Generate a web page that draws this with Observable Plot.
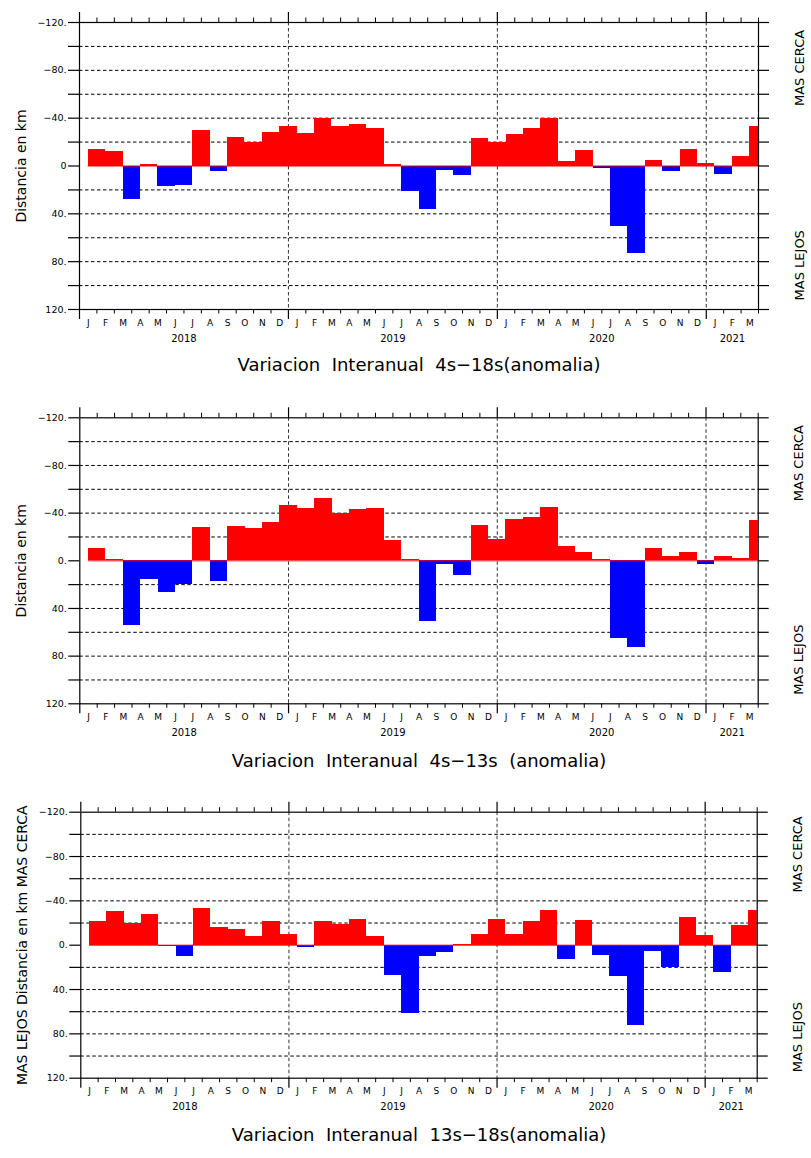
<!DOCTYPE html>
<html>
<head>
<meta charset="utf-8">
<script src="https://cdn.jsdelivr.net/npm/d3@7"></script>
<script src="https://cdn.jsdelivr.net/npm/@observablehq/plot@0.6"></script>
<style>
  html, body { margin: 0; padding: 0; background: #fff; }
  body { width: 811px; height: 1158px; position: relative; overflow: hidden; }
  .panel { position: absolute; left: 0; }
  .panel svg { display: block; }
</style>
</head>
<body>
<div id="p1" class="panel" style="top:0px"></div>
<div id="p2" class="panel" style="top:390px"></div>
<div id="p3" class="panel" style="top:775px"></div>
<script>
// Month initials and the years covered (Jan 2018 – Mar 2021)
const monthLabels = ["J", "F", "M", "A", "M", "J", "J", "A", "S", "O", "N", "D"];
const years = ["2018", "2019", "2020", "2021"];

// Interannual distance anomalies in km (negative = closer, positive = farther)
const anom4s18s = [
  -14, -12, 28, -1, 17, 16, -30, 5, -24, -20, -28, -33,
  -27, -40, -33, -35, -31, -1, 21, 36, 4, 8, -23, -20,
  -26, -31, -40, -4, -13, 2, 51, 73, -5, 5, -14, -2,
  7, -8, -33
];
const anom4s13s = [
  -10, -1, 54, 16, 27, 20, -28, 17, -29, -27, -32, -46,
  -44, -52, -40, -43, -44, -17, -1, 51, 3, 12, -30, -18,
  -35, -36, -45, -12, -7, -1, 65, 73, -10, -4, -7, 3,
  -4, -2, -34
];
const anom13s18s = [
  -21, -30, -20, -28, 1, 10, -33, -16, -14, -8, -21, -10,
  2, -21, -19, -23, -8, 27, 62, 10, 7, -0.5, -10, -23,
  -10, -21, -31, 13, -22, 9, 28, 72, 6, 20, -25, -9,
  25, -18, -31
];

// Y axis tick values and their printed labels
const yTickValues = [-120, -80, -40, 0, 40, 80, 120];
const yTickLabelsA = ["\u2212120.", "\u221280.", "\u221240.", "0", "40.", "80.", "120."];
const yTickLabelsB = ["\u2212120.", "\u221280.", "\u221240.", "0.", "40.", "80.", "120."];

const titles = [
  "Variacion  Interanual  4s\u221218s(anomalia)",
  "Variacion  Interanual  4s\u221213s  (anomalia)",
  "Variacion  Interanual  13s\u221218s(anomalia)"
];

const FONT = "DejaVu Sans, Liberation Sans, sans-serif";
const RED = "#ff0000";
const BLUE = "#0000ff";
const DASH = "3.5,2.5";

function panel(values, o) {
  const n = values.length;
  const rows = values.map((v, i) => ({i, v}));
  const months = d3.range(n).map((i) => ({i, label: monthLabels[i % 12]}));
  const bounds = d3.range(n + 1);
  const major = bounds.filter((k) => k % 12 === 0);
  const minor = bounds.filter((k) => k % 12 !== 0);
  const yearRows = years.map((label, j) => ({label, x: (j * 12 + Math.min(j * 12 + 12, n)) / 2}));
  const grid = d3.range(-100, 101, 20).filter((v) => v !== 0);
  const yTicks = d3.range(-120, 121, 20);

  return Plot.plot({
    width: 811,
    height: o.height,
    marginTop: o.top,
    marginBottom: o.height - o.top - o.frameH,
    marginLeft: o.left,
    marginRight: 811 - o.right,
    x: {domain: [0, n], axis: null},
    y: {domain: [-120, 120], reverse: true, axis: null},
    color: {type: "identity"},
    style: {fontFamily: FONT, background: "white", overflow: "visible"},
    marks: [
      // dashed horizontal grid and year separators
      Plot.ruleY(grid, {x1: 0, x2: n, stroke: "black", strokeDasharray: DASH}),
      Plot.ruleX(major.filter((k) => k > 0 && k < n), {stroke: "#333", strokeDasharray: DASH}),
      // monthly anomaly bars
      Plot.rect(rows, {
        x1: (d) => d.i + 0.5,
        x2: (d) => d.i + 1.5,
        y1: 0,
        y2: "v",
        fill: (d) => (d.v < 0 ? RED : BLUE),
        shapeRendering: "crispEdges",
        clip: true
      }),
      Plot.ruleY([0], {x1: 0.5, x2: n, stroke: RED, strokeWidth: 1}),
      Plot.frame({stroke: "black", strokeWidth: 1.2}),
      // month ticks (outside the frame, longer at year starts)
      Plot.ruleX(minor, {y1: 120, y2: 120, insetBottom: -4.5, stroke: "black"}),
      Plot.ruleX(minor, {y1: -120, y2: -120, insetTop: -4.5, stroke: "black"}),
      Plot.ruleX(major, {y1: 120, y2: 120, insetBottom: -10, stroke: "black", strokeWidth: 1.2}),
      Plot.ruleX(major, {y1: -120, y2: -120, insetTop: -10, stroke: "black", strokeWidth: 1.2}),
      // distance ticks on both sides
      Plot.ruleY(yTicks, {x1: 0, x2: 0, insetLeft: -11, stroke: "black", strokeWidth: 1.2}),
      Plot.ruleY(yTicks, {x1: n, x2: n, insetRight: -11, stroke: "black", strokeWidth: 1.2}),
      // tick labels
      Plot.text(yTickValues, {
        y: (d) => d,
        text: (d, i) => o.yLabels[i],
        frameAnchor: "left",
        textAnchor: "end",
        dx: -13,
        fontSize: 9.5,
        fill: "black"
      }),
      Plot.text(months, {x: (d) => d.i + 0.5, text: "label", frameAnchor: "bottom", dy: 16, fontSize: 9, fill: "black"}),
      Plot.text(yearRows, {x: "x", text: "label", frameAnchor: "bottom", dy: 32, fontSize: 10, fill: "black"}),
      // axis title and side annotations
      Plot.text([o.yTitle], {frameAnchor: "left", textAnchor: "middle", rotate: -90, dx: -58, fontSize: 14, fill: "black"}),
      Plot.text(["MAS CERCA"], {y: () => -82, frameAnchor: "right", textAnchor: "middle", rotate: -90, dx: 41, fontSize: 13, fill: "black"}),
      Plot.text(["MAS LEJOS"], {y: () => 83, frameAnchor: "right", textAnchor: "middle", rotate: -90, dx: 41, fontSize: 13, fill: "black"}),
      Plot.text([o.title], {frameAnchor: "bottom", dy: o.titleDy, fontSize: 18, fill: "black"})
    ]
  });
}

document.getElementById("p1").append(panel(anom4s18s, {
  height: 390, top: 22, frameH: 287, left: 79, right: 758,
  yLabels: yTickLabelsA, yTitle: "Distancia en km", title: titles[0], titleDy: 61
}));
document.getElementById("p2").append(panel(anom4s13s, {
  height: 385, top: 27.3, frameH: 286, left: 79.3, right: 757.7,
  yLabels: yTickLabelsB, yTitle: "Distancia en km", title: titles[1], titleDy: 63
}));
document.getElementById("p3").append(panel(anom13s18s, {
  height: 383, top: 36.7, frameH: 266, left: 80.3, right: 756.7,
  yLabels: yTickLabelsB, yTitle: "MAS LEJOS Distancia en km MAS CERCA", title: titles[2], titleDy: 63
}));
</script>
</body>
</html>
